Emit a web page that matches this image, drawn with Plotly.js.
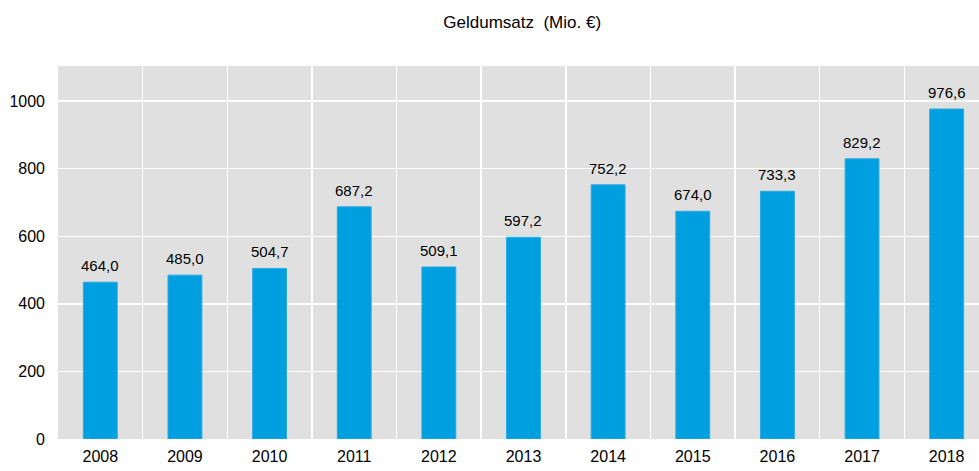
<!DOCTYPE html>
<html><head><meta charset="utf-8">
<script src="https://cdn.plot.ly/plotly-3.0.1.min.js"></script>
<style>body{margin:0;padding:0;overflow:hidden}</style>
</head><body>
<div id="chart" style="width:979px;height:471px"></div>
<script>
const years = ["2008","2009","2010","2011","2012","2013","2014","2015","2016","2017","2018"];
const values = [464.0, 485.0, 504.7, 687.2, 509.1, 597.2, 752.2, 674.0, 733.3, 829.2, 976.6];
const labels = values.map(v => v.toFixed(1).replace('.', ','));
const yTicks = [0, 200, 400, 600, 800, 1000];

const fam = 'Liberation Sans, Arial, sans-serif';

const trace = {
  type: 'bar', x: years, y: values,
  marker: {color: '#009fdf', line: {color: '#2aa9e3', width: 1}},
  width: 0.40, hoverinfo: 'none'
};

const annotations = years.map((y, i) => ({
  x: i, y: values[i], xref: 'x', yref: 'y', text: labels[i], showarrow: false,
  yanchor: 'bottom', yshift: 6, font: {family: fam, size: 15, color: '#000'}
}));

Plotly.newPlot('chart', [trace], {
  width: 979, height: 471,
  margin: {l: 58, r: 0, t: 66, b: 32},
  paper_bgcolor: '#fff', plot_bgcolor: '#e0e0e0',
  font: {family: fam, size: 16, color: '#000'},
  title: {text: 'Geldumsatz&#160; (Mio. €)', x: 0.504, xref: 'paper', y: 0.953, yanchor: 'middle', font: {family: fam, size: 17, color: '#000'}},
  showlegend: false,
  xaxis: {
    type: 'category', range: [-0.5, 10.382], tickson: 'boundaries',
    showgrid: true, gridcolor: '#ffffff', gridwidth: 1.5,
    ticks: '', ticklabelstandoff: 6, zeroline: false, showline: false,
    tickfont: {family: fam, size: 16, color: '#000'}, fixedrange: true
  },
  yaxis: {
    range: [0, 1104], tickvals: yTicks, ticktext: yTicks.map(String),
    showgrid: true, gridcolor: '#ffffff', gridwidth: 1.5,
    zeroline: false, showline: false, ticks: '', ticklabelstandoff: 12,
    tickfont: {family: fam, size: 16, color: '#000'}, fixedrange: true
  },
  annotations: annotations
}, {displayModeBar: false, staticPlot: true});
</script>
</body></html>
